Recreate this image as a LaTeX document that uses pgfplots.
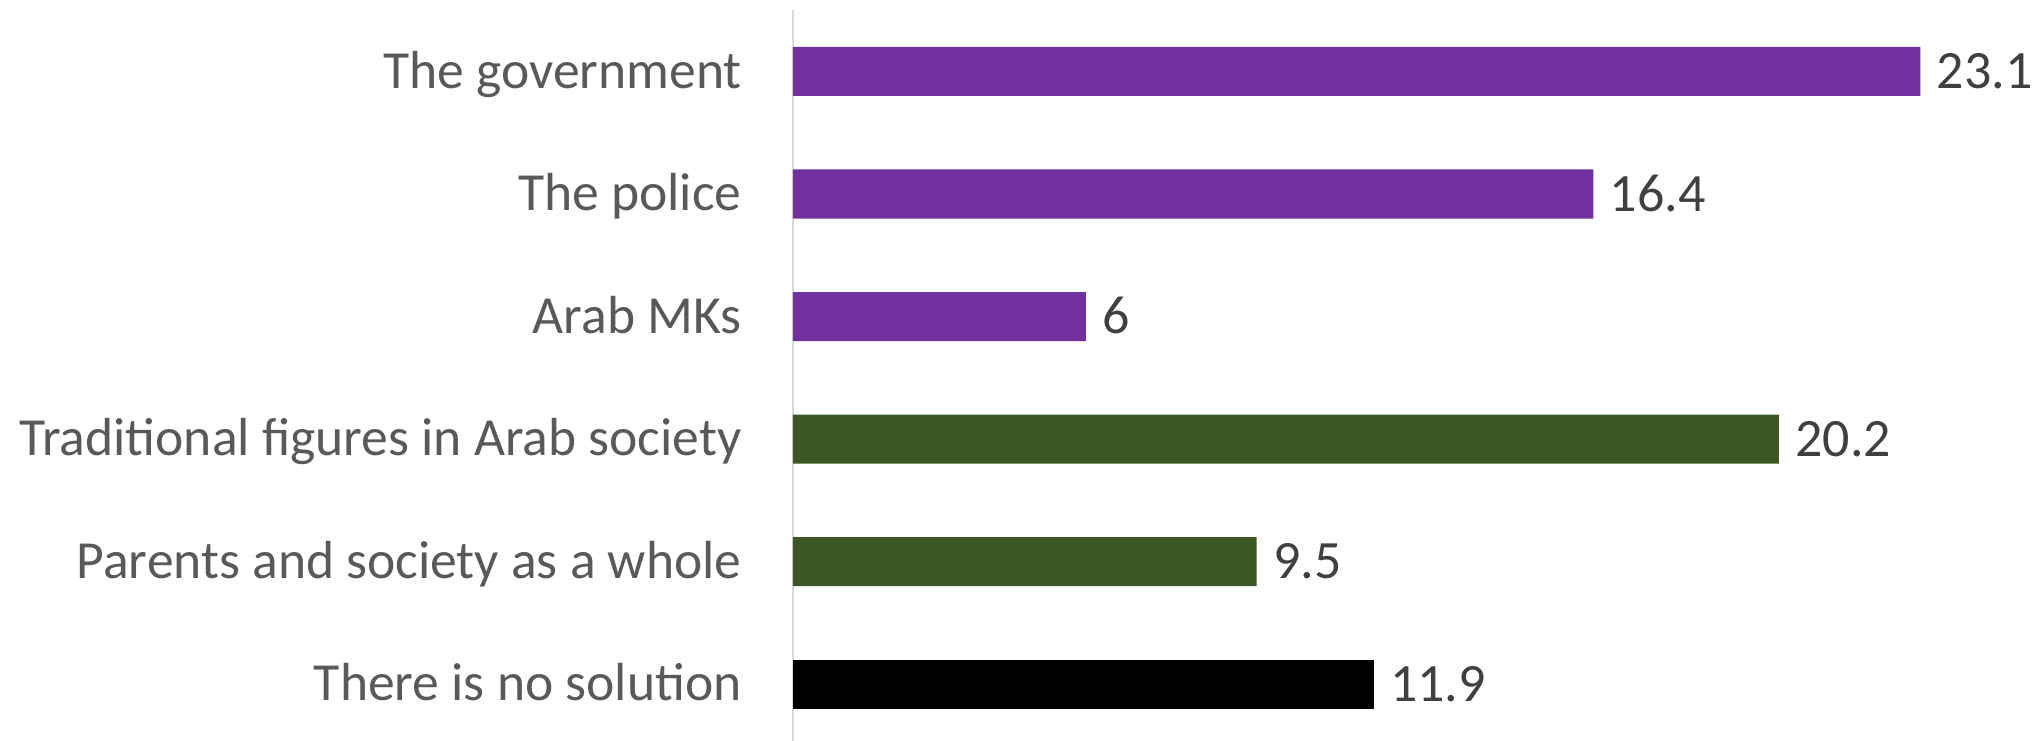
\documentclass[border=0pt]{standalone}
\usepackage{fontspec}
\setmainfont{Carlito}
\usepackage{pgfplots}
\pgfplotsset{compat=1.18}
\definecolor{barpurple}{HTML}{7030A0}
\definecolor{bargreen}{HTML}{3A5724}
\definecolor{labelgray}{HTML}{595959}
\definecolor{valgray}{HTML}{404040}
\definecolor{axgray}{HTML}{D9D9D9}
\begin{document}
\begin{tikzpicture}
\begin{axis}[
  scale only axis, width=624pt, height=365.35pt,
  xbar, bar width=0.4, bar shift=0pt,
  xmin=0, xmax=25.57,
  ymin=-0.5016, ymax=5.461, y dir=reverse,
  axis x line=none, axis y line*=left,
  y axis line style={-, draw=axgray, line width=0.9pt},
  ytick={0,...,5},
  yticklabels={The government, The police, Arab MKs, Traditional figures in Arab society, Parents and society as a whole, There is no solution},
  major tick length=0pt, ytick style={draw=none},
  yticklabel style={font=\fontsize{26.8}{32}\selectfont, text=labelgray, inner sep=0pt, anchor=base east, xshift=-25.5pt, yshift=-8.4pt},
  nodes near coords={\pgfmathprintnumber[assume math mode=true]{\pgfplotspointmeta}},
  every node near coord/.append style={font=\fontsize{27}{32}\selectfont, text=valgray, inner sep=0pt, anchor=base west, xshift=8pt, yshift=-8.5pt},
  clip=false,
]
\addplot[fill=barpurple, draw=none] coordinates {(23.1,0) (16.4,1) (6,2)};
\addplot[fill=bargreen, draw=none] coordinates {(20.2,3) (9.5,4)};
\addplot[fill=black, draw=none] coordinates {(11.9,5)};
\end{axis}
\pgfresetboundingbox
\path (current axis.north west) ++(-396.5pt,5pt) rectangle (current axis.south east);
\end{tikzpicture}
\end{document}
